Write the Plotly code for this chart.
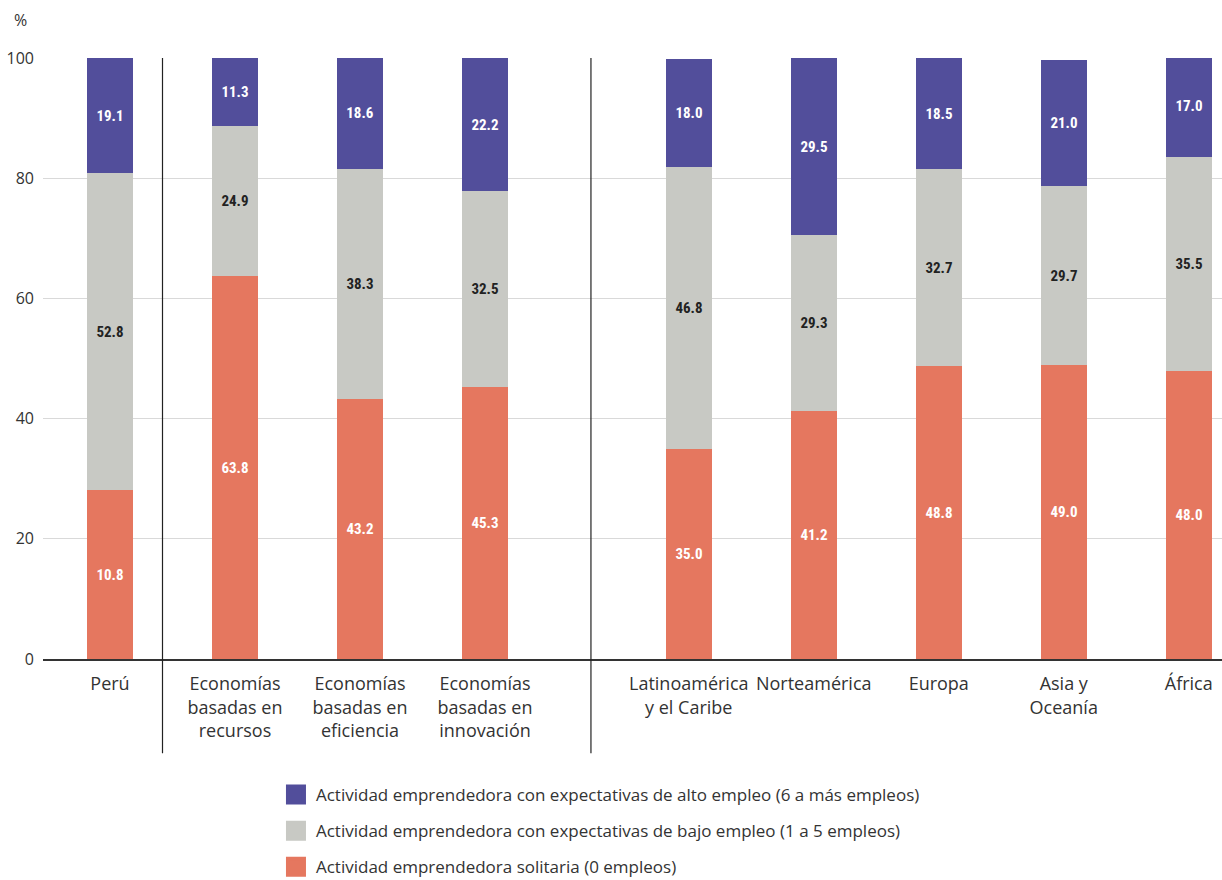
import plotly.graph_objects as go

# ---- data ----
categories = ["Perú", "Economías<br>basadas en<br>recursos", "Economías<br>basadas en<br>eficiencia",
              "Economías<br>basadas en<br>innovación", "Latinoamérica<br>y el Caribe", "Norteamérica",
              "Europa", "Asia y<br>Oceanía", "África"]
groups = [0, 1, 1, 1, 2, 2, 2, 2, 2]

solitaria = [28.1, 63.8, 43.2, 45.3, 35.0, 41.2, 48.8, 49.0, 48.0]
solitaria_labels = ["10.8", "63.8", "43.2", "45.3", "35.0", "41.2", "48.8", "49.0", "48.0"]
bajo = [52.8, 24.9, 38.3, 32.5, 46.8, 29.3, 32.7, 29.7, 35.5]
bajo_labels = ["52.8", "24.9", "38.3", "32.5", "46.8", "29.3", "32.7", "29.7", "35.5"]
alto = [19.1, 11.3, 18.6, 22.2, 18.0, 29.5, 18.5, 21.0, 17.0]
alto_labels = ["19.1", "11.3", "18.6", "22.2", "18.0", "29.5", "18.5", "21.0", "17.0"]

y_ticks = [0, 20, 40, 60, 80, 100]

names = {
    "alto": "Actividad emprendedora con expectativas de alto empleo (6 a más empleos)",
    "bajo": "Actividad emprendedora con expectativas de bajo empleo (1 a 5 empleos)",
    "sol": "Actividad emprendedora solitaria (0 empleos)",
}

# ---- layout / style ----
C_ALTO = "#524e9b"
C_BAJO = "#c8c9c4"
C_SOL = "#e5775f"
FONT = "Open Sans"
LBL_FONT = "Roboto Condensed, Liberation Sans Narrow, Roboto, sans-serif"
GROUP_GAP = 0.63

# x positions: index plus a gap before the regional group
xpos = []
pos = 0.0
for i, g in enumerate(groups):
    if i > 0:
        pos += 1.0
        if g == 2 and groups[i - 1] == 1:
            pos += GROUP_GAP
    xpos.append(pos)

fig = go.Figure()

def add_bar(vals, labels, color, txtcolor):
    fig.add_trace(go.Bar(
        x=xpos, y=vals, text=labels, texttemplate="%{text}",
        textposition="inside", insidetextanchor="middle", constraintext="none",
        textangle=0,
        textfont=dict(family=LBL_FONT, size=15, color=txtcolor, weight="bold"),
        marker=dict(color=color, line=dict(width=0)),
        width=0.368, showlegend=False, hoverinfo="skip",
    ))

add_bar(solitaria, solitaria_labels, C_SOL, "white")
add_bar(bajo, bajo_labels, C_BAJO, "#222222")
add_bar(alto, alto_labels, C_ALTO, "white")

# legend entries
for key, color, grp in [("alto", C_ALTO, "a"), ("bajo", C_BAJO, "b"), ("sol", C_SOL, "c")]:
    fig.add_trace(go.Scatter(
        x=[None], y=[None], mode="markers", name=names[key], legendgroup=grp,
        marker=dict(symbol="square", size=16, color=color, line=dict(width=4, color=color)),
    ))

fig.update_layout(
    width=1222, height=880,
    barmode="stack", bargap=0,
    plot_bgcolor="white", paper_bgcolor="white",
    margin=dict(l=43, r=0, t=58, b=221, autoexpand=False),
    font=dict(family=FONT, color="#333333"),
    xaxis=dict(
        range=[-0.536, 8.896], tickmode="array", tickvals=xpos, ticktext=categories,
        showgrid=False, zeroline=False, showline=True, linecolor="#333333", linewidth=1.5,
        ticks="", tickangle=0, ticklabelstandoff=8,
        tickfont=dict(size=18, color="#333333"), fixedrange=True,
    ),
    yaxis=dict(
        range=[0, 100], tickvals=y_ticks, showgrid=True, gridcolor="#d9d9d9", gridwidth=1.2,
        zeroline=False, showline=False, ticks="", ticklabelstandoff=8,
        tickfont=dict(size=16, color="#333333"), fixedrange=True,
    ),
    legend=dict(
        x=0.1976, y=-0.1963,
        xanchor="left", yanchor="top", orientation="v",
        traceorder="grouped", tracegroupgap=11, itemsizing="trace",
        font=dict(size=17, color="#333333"), bgcolor="rgba(0,0,0,0)",
    ),
    showlegend=True,
    annotations=[dict(
        text="%", xref="paper", yref="paper", x=-0.0195, y=1.063,
        xanchor="center", yanchor="middle",
        showarrow=False, font=dict(size=16, color="#333333"),
    )],
    shapes=[
        dict(type="line", xref="x", yref="paper", x0=sx, x1=sx, y0=-0.157, y1=1,
             line=dict(color="#222222", width=1.2))
        for sx in (0.42, 3 + (1 + GROUP_GAP) * 0.52)
    ],
)

fig.write_html("out.html", config={"displayModeBar": False},
               post_script="document.body.style.margin='0';")
